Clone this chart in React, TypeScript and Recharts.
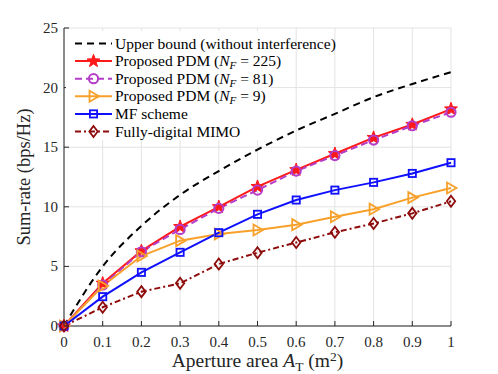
import { CartesianGrid, Label, Line, LineChart, XAxis, YAxis } from "recharts";

const apertureArea = [0, 0.1, 0.2, 0.3, 0.4, 0.5, 0.6, 0.7, 0.8, 0.9, 1];
const upperBound = [0, 5.0, 8.4, 11.0, 13.0, 14.8, 16.4, 17.8, 19.2, 20.3, 21.3];
const pdm225 = [0, 3.58, 6.3, 8.33, 10.0, 11.69, 13.1, 14.45, 15.8, 16.9, 18.2];
const pdm81 = [0, 3.44, 6.23, 8.1, 9.87, 11.4, 13.0, 14.3, 15.6, 16.8, 17.93];
const pdm9 = [0, 3.36, 5.87, 7.16, 7.72, 8.05, 8.5, 9.17, 9.8, 10.77, 11.58];
const mfScheme = [0, 2.46, 4.5, 6.18, 7.83, 9.37, 10.57, 11.4, 12.05, 12.8, 13.7];
const fullyDigital = [0, 1.57, 2.88, 3.58, 5.2, 6.15, 7.0, 7.86, 8.6, 9.45, 10.46];

const xTicks = [0, 0.1, 0.2, 0.3, 0.4, 0.5, 0.6, 0.7, 0.8, 0.9, 1];
const yTicks = [0, 5, 10, 15, 20, 25];

const data = apertureArea.map((a, i) => ({
  a,
  ub: upperBound[i],
  p225: pdm225[i],
  p81: pdm81[i],
  p9: pdm9[i],
  mf: mfScheme[i],
  fd: fullyDigital[i],
}));

const FONT = "'Liberation Serif', 'Times New Roman', serif";
const AXIS = "#262626";
const RED = "#FF1A1A";
const PURPLE = "#B43CC8";
const ORANGE = "#F8A12A";
const BLUE = "#1010FF";
const DARKRED = "#8E0B0B";

type Marker = "none" | "star" | "circle" | "triangle" | "square" | "diamond";

function drawMarker(kind: Marker, cx: number, cy: number, color: string, key?: string | number) {
  if (kind === "star") {
    const pts: string[] = [];
    for (let k = 0; k < 10; k++) {
      const r = k % 2 === 0 ? 6.8 : 2.8;
      const ang = -Math.PI / 2 + (k * Math.PI) / 5;
      pts.push(`${cx + r * Math.cos(ang)},${cy + r * Math.sin(ang)}`);
    }
    return <polygon key={key} points={pts.join(" ")} fill={color} stroke={color} strokeWidth={1} />;
  }
  if (kind === "circle") {
    return <circle key={key} cx={cx} cy={cy} r={4.6} fill="none" stroke={color} strokeWidth={2} />;
  }
  if (kind === "triangle") {
    return (
      <polygon
        key={key}
        points={`${cx + 5.5},${cy} ${cx - 4},${cy - 5.5} ${cx - 4},${cy + 5.5}`}
        fill="none"
        stroke={color}
        strokeWidth={1.8}
      />
    );
  }
  if (kind === "square") {
    return <rect key={key} x={cx - 3.6} y={cy - 3.6} width={7.2} height={7.2} fill="none" stroke={color} strokeWidth={1.8} />;
  }
  if (kind === "diamond") {
    return (
      <polygon
        key={key}
        points={`${cx},${cy - 5.5} ${cx + 4.2},${cy} ${cx},${cy + 5.5} ${cx - 4.2},${cy}`}
        fill="none"
        stroke={color}
        strokeWidth={1.8}
      />
    );
  }
  return <g key={key} />;
}

const series: { key: string; name: string; nf?: string; color: string; dash?: string; marker: Marker }[] = [
  { key: "ub", name: "Upper bound (without interference)", color: "#000000", dash: "7 5", marker: "none" },
  { key: "p225", name: "Proposed PDM (", nf: "225", color: RED, marker: "star" },
  { key: "p81", name: "Proposed PDM (", nf: "81", color: PURPLE, dash: "7 4", marker: "circle" },
  { key: "p9", name: "Proposed PDM (", nf: "9", color: ORANGE, marker: "triangle" },
  { key: "mf", name: "MF scheme", color: BLUE, marker: "square" },
  { key: "fd", name: "Fully-digital MIMO", color: DARKRED, dash: "6 3 2 3", marker: "diamond" },
];

function BottomTick(props: any) {
  const { x, y, payload } = props;
  return (
    <g>
      <line x1={x} x2={x} y1={y} y2={y - 5} stroke={AXIS} />
      <text x={x} y={y + 21} textAnchor="middle" fontFamily={FONT} fontSize={15} fill="#262626">
        {String(payload.value)}
      </text>
    </g>
  );
}

function TopTick(props: any) {
  const { x, y } = props;
  return <line x1={x} x2={x} y1={y} y2={y + 5} stroke={AXIS} />;
}

function LeftTick(props: any) {
  const { x, y, payload } = props;
  return (
    <g>
      <line x1={x} x2={x + 5} y1={y} y2={y} stroke={AXIS} />
      <text x={x - 6} y={y + 5} textAnchor="end" fontFamily={FONT} fontSize={15} fill="#262626">
        {String(payload.value)}
      </text>
    </g>
  );
}

function RightTick(props: any) {
  const { x, y } = props;
  return <line x1={x} x2={x - 5} y1={y} y2={y} stroke={AXIS} />;
}

function Legend6() {
  const rowH = 17.6;
  return (
    <svg width={290} height={115} style={{ position: "absolute", left: 66, top: 30 }}>
      <rect x={0} y={1} width={205} height={109} fill="#ffffff" />
      {series.map((s, i) => {
        const cy = 13.5 + i * rowH;
        return (
          <g key={s.key}>
            <line x1={9} x2={46} y1={cy} y2={cy} stroke={s.color} strokeWidth={2} strokeDasharray={s.dash} />
            {drawMarker(s.marker, 27.5, cy, s.color)}
            <text x={49} y={cy + 5} fontFamily={FONT} fontSize={15.5} fill="#000">
              {s.name}
              {s.nf ? (
                <>
                  <tspan fontStyle="italic">N</tspan>
                  <tspan fontStyle="italic" fontSize={11} dy={3}>F</tspan>
                  <tspan dy={-3}>{` = ${s.nf})`}</tspan>
                </>
              ) : null}
            </text>
          </g>
        );
      })}
    </svg>
  );
}

function YTitle(props: any) {
  const vb = props.viewBox;
  const cx = 30;
  const cy = vb.y + vb.height / 2;
  return (
    <text x={cx} y={cy} transform={`rotate(-90 ${cx} ${cy})`} textAnchor="middle" fontFamily={FONT} fontSize={18.5} fill="#262626">
      Sum-rate (bps/Hz)
    </text>
  );
}

function XTitle(props: any) {
  const vb = props.viewBox;
  const cx = vb.x + vb.width / 2;
  return (
    <text x={cx} y={367} textAnchor="middle" fontFamily={FONT} fontSize={19.5} fill="#262626">
      {"Aperture area "}
      <tspan fontStyle="italic">A</tspan>
      <tspan fontSize={13.5} dy={4}>T</tspan>
      <tspan dy={-4}>{" (m"}</tspan>
      <tspan fontSize={13.5} dy={-6}>2</tspan>
      <tspan dy={6}>)</tspan>
    </text>
  );
}

export default function App() {
  return (
    <div style={{ position: "absolute", left: 0, top: 0, width: 498, height: 374, background: "#fff" }}>
      <LineChart width={498} height={374} data={data} margin={{ top: 28, right: 47, bottom: 0, left: 0 }}>
        <CartesianGrid stroke="#e3e3e3" strokeWidth={1} />
        <XAxis
          dataKey="a"
          type="number"
          domain={[0, 1]}
          ticks={xTicks}
          height={48}
          tickSize={0}
          tickMargin={0}
          tickLine={false}
          tick={<BottomTick />}
          axisLine={{ stroke: AXIS }}
          interval={0}
        >
          <Label content={<XTitle />} />
        </XAxis>
        <XAxis
          xAxisId="top"
          orientation="top"
          dataKey="a"
          type="number"
          domain={[0, 1]}
          ticks={xTicks}
          height={0}
          tickSize={0}
          tickMargin={0}
          tickLine={false}
          tick={<TopTick />}
          axisLine={{ stroke: AXIS }}
          interval={0}
        />
        <YAxis
          type="number"
          domain={[0, 25]}
          ticks={yTicks}
          width={64}
          tickSize={0}
          tickMargin={0}
          tickLine={false}
          tick={<LeftTick />}
          axisLine={{ stroke: AXIS }}
          interval={0}
        >
          <Label content={<YTitle />} />
        </YAxis>
        <YAxis
          yAxisId="right"
          orientation="right"
          type="number"
          domain={[0, 25]}
          ticks={yTicks}
          width={0}
          tickSize={0}
          tickMargin={0}
          tickLine={false}
          tick={<RightTick />}
          axisLine={{ stroke: AXIS }}
          interval={0}
        />
        {series.map((s) => (
          <Line
            key={s.key}
            dataKey={s.key}
            type={s.key === "ub" ? "monotone" : "linear"}
            stroke={s.color}
            strokeWidth={2}
            strokeDasharray={s.dash}
            isAnimationActive={false}
            dot={
              s.marker === "none"
                ? false
                : (p: any) => drawMarker(s.marker, p.cx, p.cy, s.color, `${s.key}-${p.index}`)
            }
            activeDot={false}
          />
        ))}
      </LineChart>
      <Legend6 />
    </div>
  );
}
